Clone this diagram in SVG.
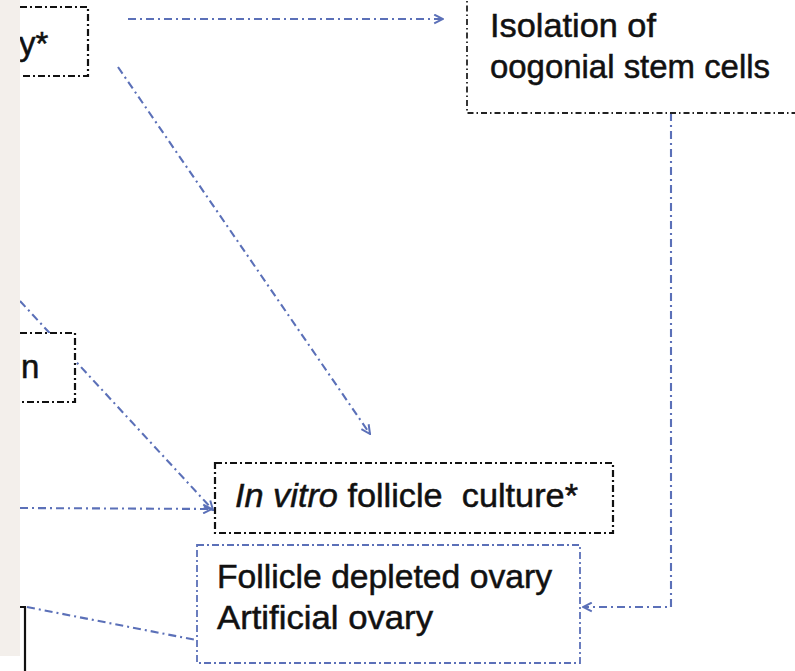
<svg xmlns="http://www.w3.org/2000/svg" width="795" height="671" viewBox="0 0 795 671">
  <defs>
    <marker id="arr" viewBox="0 0 10 10" refX="9" refY="5" markerWidth="11" markerHeight="11" markerUnits="userSpaceOnUse" orient="auto">
      <path d="M1,1 L9,5 L1,9" fill="none" stroke="#5b70b8" stroke-width="1.8"/>
    </marker>
  </defs>
  <style>
    .box { fill: #ffffff; stroke: #111111; stroke-width: 2.2; stroke-dasharray: 7 3 2 3; }
    .boxfine { fill: #ffffff; stroke: #222222; stroke-width: 1.8; stroke-dasharray: 6 3 1.5 3; }
    .boxblue { fill: #ffffff; stroke: #5b70b8; stroke-width: 1.8; stroke-dasharray: 7 3 2 3; }
    .conn { fill: none; stroke: #5b70b8; stroke-width: 2.1; stroke-dasharray: 8 4 2 4; }
    .t { font-family: "Liberation Sans", Arial, sans-serif; font-size: 33px; fill: #111111; stroke: #111111; stroke-width: 0.5; white-space: pre; }
    .i { font-style: italic; }
  </style>
  <rect x="0" y="0" width="795" height="671" fill="#ffffff"/>

  <g id="connectors">
    <path class="conn" d="M128,19 L443,19" marker-end="url(#arr)"/>
    <path class="conn" d="M118,67 L370,434" marker-end="url(#arr)"/>
    <path class="conn" d="M20,301 L213,510" marker-end="url(#arr)"/>
    <path class="conn" d="M20,508 L212,509" marker-end="url(#arr)"/>
    <path class="conn" d="M671,113 L671,607 L583,607" marker-end="url(#arr)"/>
    <path class="conn" d="M27,607 L196,640"/>
  </g>

  <g id="node-top-left">
    <rect class="box" x="-10" y="7" width="98" height="69"/>
    <text class="t" x="19" y="55">y*</text>
  </g>

  <g id="node-isolation">
    <rect class="boxfine" x="467" y="-10" width="340" height="123"/>
    <text class="t" x="490" y="37" textLength="166" lengthAdjust="spacingAndGlyphs">Isolation of</text>
    <text class="t" x="490" y="78" textLength="280" lengthAdjust="spacingAndGlyphs">oogonial stem cells</text>
  </g>

  <g id="node-mid-left">
    <rect class="box" x="-10" y="333" width="85" height="69"/>
    <text class="t" x="21" y="378">n</text>
  </g>

  <g id="node-invitro">
    <rect class="box" x="215" y="463" width="398" height="70"/>
    <text class="t" x="235" y="507" textLength="343" lengthAdjust="spacingAndGlyphs"><tspan class="i">In vitro</tspan> follicle  culture*</text>
  </g>

  <g id="node-ovary">
    <rect class="boxblue" x="197" y="545" width="383" height="118"/>
    <text class="t" x="217" y="588" textLength="335" lengthAdjust="spacingAndGlyphs">Follicle depleted ovary</text>
    <text class="t" x="217" y="629" textLength="216" lengthAdjust="spacingAndGlyphs">Artificial ovary</text>
  </g>

  <g id="node-bottom-left">
    <path d="M0,607 L25,607 L25,680" fill="none" stroke="#111111" stroke-width="2.2"/>
  </g>

  <rect x="0" y="0" width="20" height="656" fill="#f3efeb"/>
</svg>
